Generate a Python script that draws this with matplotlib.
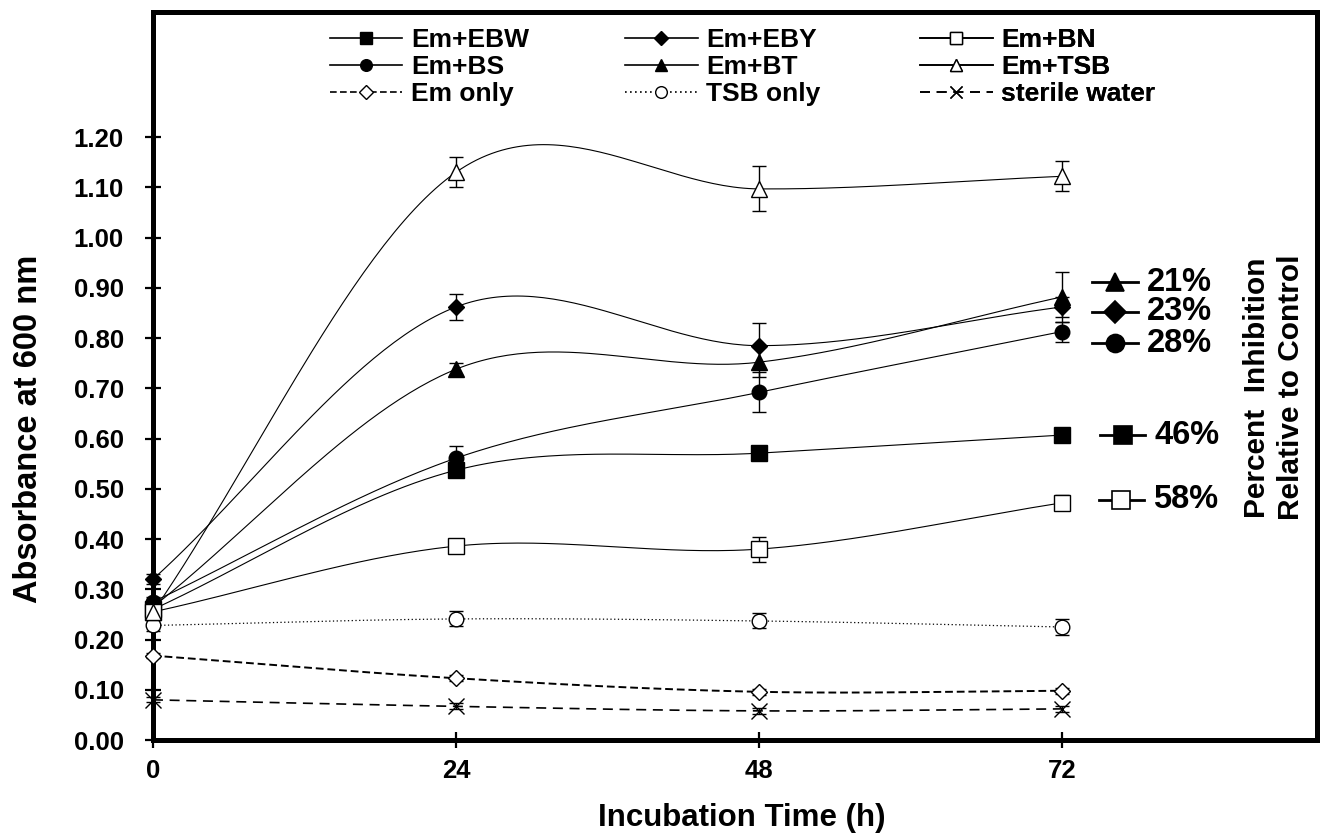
import numpy as np
import matplotlib
matplotlib.use('Agg')
import matplotlib.pyplot as plt

plt.rcParams['font.family'] = ['Liberation Sans', 'DejaVu Sans']
plt.rcParams['font.weight'] = 'bold'

# Incubation times (h)
hours = [0, 24, 48, 72]

# Absorbance at 600 nm
em_ebw = [0.26, 0.537, 0.571, 0.607]
em_eby = [0.32, 0.862, 0.785, 0.862]
em_bn = [0.255, 0.386, 0.380, 0.472]
em_bs = [0.275, 0.561, 0.692, 0.813]
em_bt = [0.265, 0.738, 0.752, 0.882]
em_tsb = [0.255, 1.130, 1.097, 1.122]
em_only = [0.168, 0.123, 0.096, 0.098]
tsb_only = [0.228, 0.241, 0.237, 0.225]
sterile_water = [0.080, 0.067, 0.058, 0.062]

# error bars (+/-)
err_ebw = [0.005, 0.010, 0.010, 0.010]
err_eby = [0.010, 0.025, 0.045, 0.020]
err_bn = [0.010, 0.010, 0.025, 0.015]
err_bs = [0.010, 0.025, 0.040, 0.020]
err_bt = [0.010, 0.012, 0.030, 0.050]
err_tsb = [0.010, 0.030, 0.045, 0.030]
err_em_only = [0.005, 0.006, 0.006, 0.006]
err_tsb_only = [0.010, 0.015, 0.015, 0.015]
err_water = [0.005, 0.006, 0.006, 0.006]

inhibition_labels = ['21%', '23%', '28%', '46%', '58%']


def smooth(x, y, n=60):
    # Catmull-Rom style curve through the points, only for the drawn line
    x = np.asarray(x, float)
    y = np.asarray(y, float)
    m = np.gradient(y)  # per-segment tangents (equal spacing)
    xs_all, ys_all = [], []
    for i in range(len(x) - 1):
        t = np.linspace(0, 1, n)
        h00 = 2 * t ** 3 - 3 * t ** 2 + 1
        h10 = t ** 3 - 2 * t ** 2 + t
        h01 = -2 * t ** 3 + 3 * t ** 2
        h11 = t ** 3 - t ** 2
        xs_all.append(x[i] + t * (x[i + 1] - x[i]))
        ys_all.append(h00 * y[i] + h10 * m[i] + h01 * y[i + 1] + h11 * m[i + 1])
    return np.concatenate(xs_all), np.concatenate(ys_all)


fig = plt.figure(figsize=(13.22, 8.36), dpi=100)
ax = fig.add_axes([0.1157, 0.1148, 0.8805, 0.8708])

series = [
    (em_ebw, err_ebw, 's', 'k', '-', 0.8, 'Em+EBW'),
    (em_bs, err_bs, 'o', 'k', '-', 0.8, 'Em+BS'),
    (em_only, err_em_only, 'D', 'w', (0, (4, 2)), 1.4, 'Em only'),
    (em_eby, err_eby, 'D', 'k', '-', 0.8, 'Em+EBY'),
    (em_bt, err_bt, '^', 'k', '-', 0.8, 'Em+BT'),
    (tsb_only, err_tsb_only, 'o', 'w', (0, (1, 2)), 0.9, 'TSB only'),
    (em_bn, err_bn, 's', 'w', '-', 0.8, 'Em+BN'),
    (em_tsb, err_tsb, '^', 'w', '-', 0.8, 'Em+TSB'),
    (sterile_water, err_water, 'x', 'k', (0, (6, 4)), 1.2, 'sterile water'),
]
msizes = {'s': 11.5, 'o': 10.5, '^': 11, 'D': 8.5, 'x': 11}

handles = []
for vals, err, mk, fc, ls, lw, lab in series:
    xs, ys = smooth(hours, vals)
    ax.plot(xs, ys, color='k', ls=ls, lw=lw, clip_on=False, zorder=2)
    ax.errorbar(hours, vals, yerr=err, fmt='none', ecolor='k', elinewidth=1.0,
                capsize=5, capthick=1.0, clip_on=False, zorder=3)
    ax.plot(hours, vals, ls='none', marker=mk, ms=msizes[mk], mfc=fc, mec='k',
            mew=1.0, clip_on=False, zorder=4)
    h, = ax.plot([], [], color='k', ls=ls, lw=1.2, marker=mk, ms=msizes[mk] * 0.8,
                 mfc=fc, mec='k', mew=1.0, label=lab)
    handles.append(h)

# legend: three columns placed separately
col_x = [0.152, 0.4055, 0.659]
for c in range(3):
    leg = ax.legend(handles=handles[c * 3:c * 3 + 3], loc='upper left',
                    bbox_to_anchor=(col_x[c], 0.978), frameon=False,
                    handlelength=2.75, handletextpad=0.33,
                    labelspacing=0.12, borderaxespad=0, borderpad=0,
                    prop={'weight': 'bold', 'size': 19})
    ax.add_artist(leg)

# inhibition annotations on the right
ann_markers = [('^', 'k', 0.911, 76.2), ('D', 'k', 0.852, 76.2), ('o', 'k', 0.790, 76.2),
               ('s', 'k', 0.607, 76.8), ('s', 'w', 0.478, 76.7)]
for (mk, fc, yv, xc), lab in zip(ann_markers, inhibition_labels):
    ax.plot([xc - 1.8, xc + 1.8], [yv, yv], color='k', lw=2, clip_on=False)
    ax.plot([xc], [yv], marker=mk, ms=13 if mk != 'D' else 11, mfc=fc, mec='k', mew=1.2,
            clip_on=False)
    ax.text(xc + 2.5, yv, lab, fontsize=23.5, fontweight='bold', va='center', ha='left')

ax.text(88.8, 0.702, 'Percent  Inhibition\nRelative to Control', rotation=90,
        fontsize=21.5, fontweight='bold', ha='center', va='center', linespacing=1.3)

ax.set_xlim(0, 92.2)
ax.set_ylim(0, 1.449)
ax.set_xticks(hours)
ax.set_xticklabels([str(h) for h in hours])
yt = np.arange(0, 1.21, 0.1)
ax.set_yticks(yt)
ax.set_yticklabels([f'{v:.2f}' for v in yt])
ax.tick_params(axis='both', direction='inout', length=12, width=1.6, labelsize=18.5)
ax.tick_params(axis='x', pad=8)
ax.tick_params(axis='y', pad=15)
for lbl in ax.get_xticklabels() + ax.get_yticklabels():
    lbl.set_fontweight('bold')
for s in ax.spines.values():
    s.set_linewidth(3.6)

ax.set_xlabel('Incubation Time (h)', fontsize=22.5, fontweight='bold')
ax.set_ylabel('Absorbance at 600 nm', fontsize=23.5, fontweight='bold')
ax.xaxis.set_label_coords(0.506, -0.086)
ax.yaxis.set_label_coords(-0.094, 0.427)

fig.savefig('out.png', dpi=100)
